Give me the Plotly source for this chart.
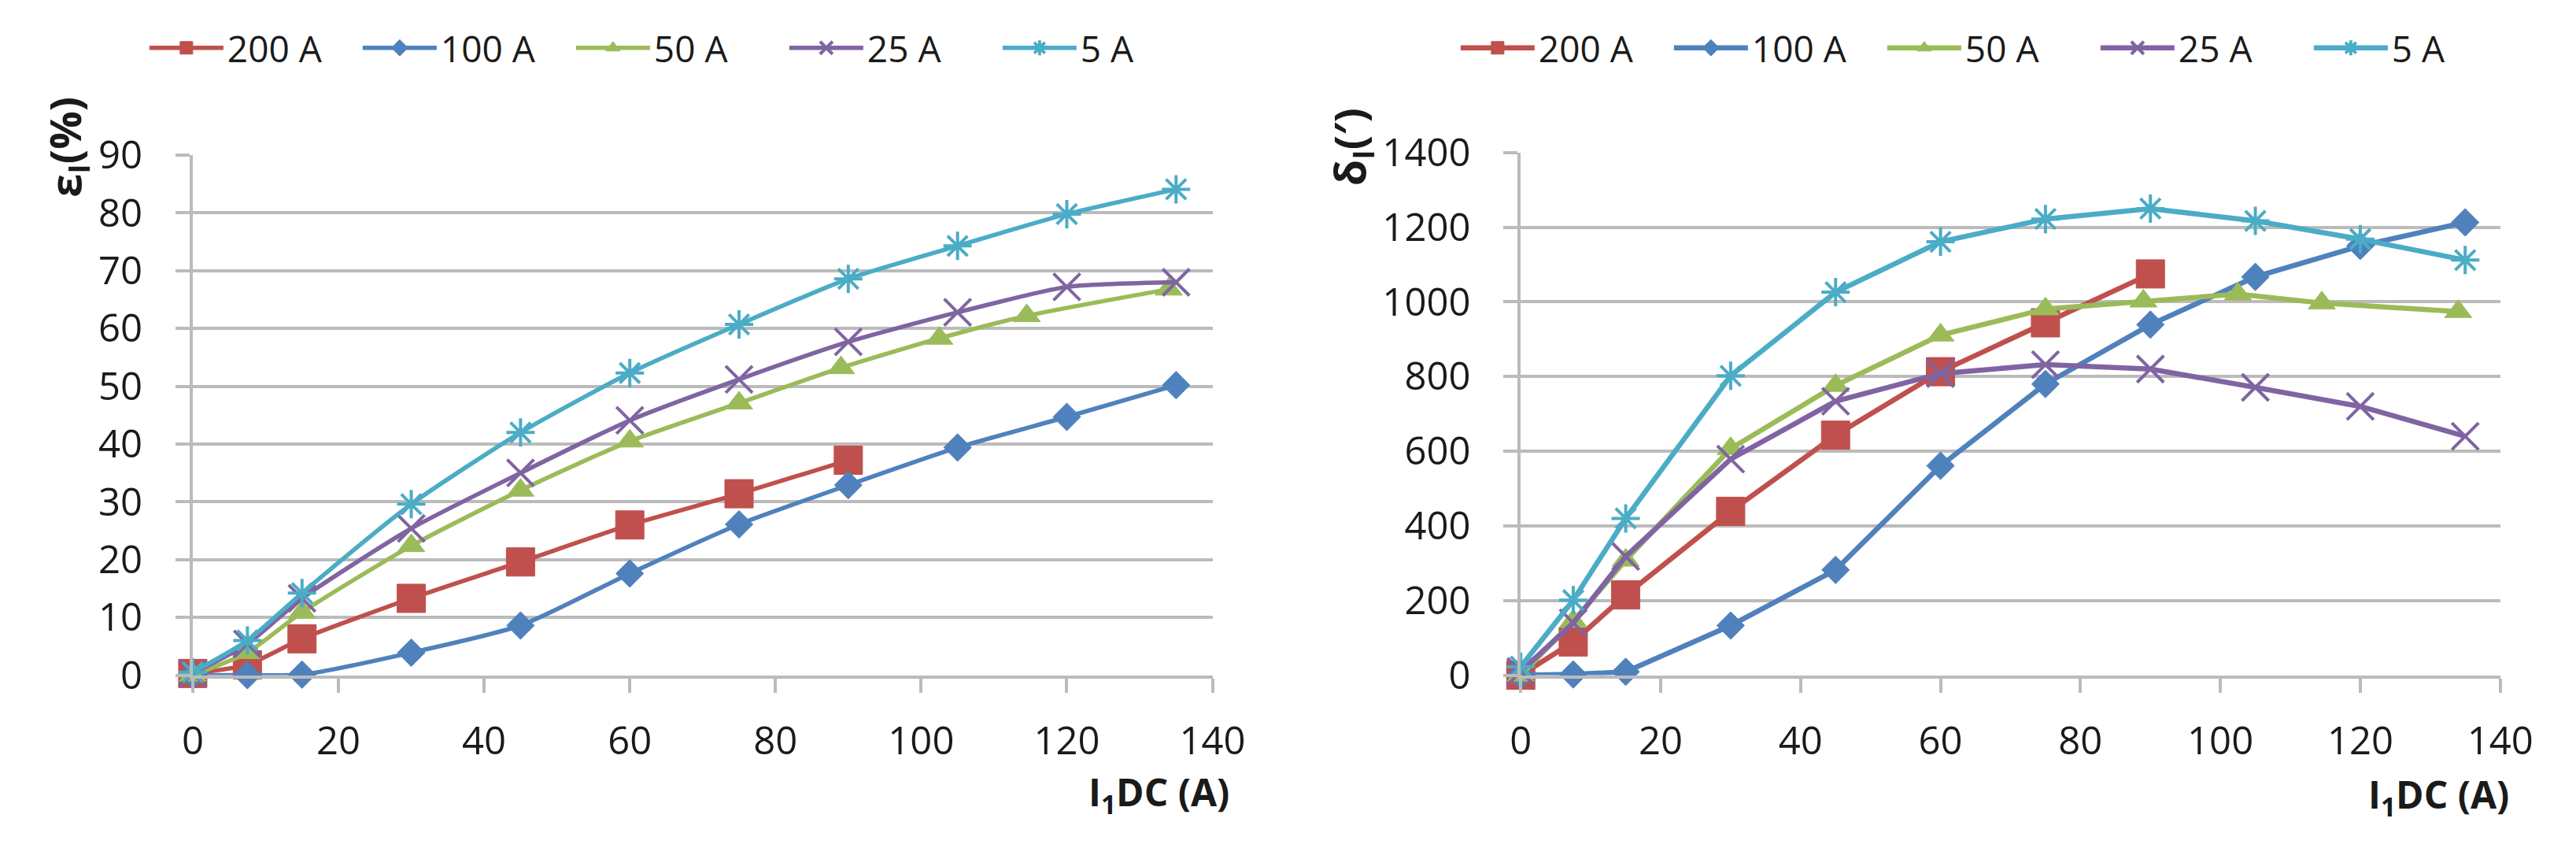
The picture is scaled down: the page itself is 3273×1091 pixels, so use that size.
import plotly.graph_objects as go

# ---------------- data ----------------
series_names = ["200 A", "100 A", "50 A", "25 A", "5 A"]
x_200 = [0, 7.5, 15, 30, 45, 60, 75, 90]
x_100 = [0, 7.5, 15, 30, 45, 60, 75, 90, 105, 120, 135]
x_50 = [0, 7.5, 15, 30, 45, 60, 75, 89, 102.5, 114.5, 134]
x_25 = [0, 7.5, 15, 30, 45, 60, 75, 90, 105, 120, 135]
x_5 = [0, 7.5, 15, 30, 45, 60, 75, 90, 105, 120, 135]

eps_200 = [0.3, 1.8, 6.3, 13.3, 19.6, 26.0, 31.4, 37.2]
eps_100 = [0, 0, 0.1, 3.9, 8.6, 17.6, 26.1, 32.9, 39.4, 44.7, 50.2]
eps_50 = [0, 3.9, 10.9, 22.4, 32.0, 40.5, 47.1, 53.2, 58.3, 62.2, 66.8]
eps_25 = [0.3, 5.4, 13.3, 25.4, 35.0, 44.1, 51.2, 57.7, 62.8, 67.2, 68.0]
eps_5 = [0.5, 6.0, 14.2, 29.6, 42.0, 52.3, 60.7, 68.6, 74.3, 79.8, 84.1]

del_200 = [0, 89, 215, 439, 643, 813, 944, 1075]
del_100 = [0, 2, 9, 133, 282, 561, 780, 939, 1067, 1150, 1213]
del_50 = [0, 145, 308, 607, 776, 911, 981, 1002, 1021, 997, 974]
del_25 = [10, 140, 318, 579, 734, 808, 832, 820, 771, 720, 640]
del_5 = [23, 201, 420, 802, 1026, 1161, 1222, 1250, 1217, 1168, 1112]

x_ticks = [0, 20, 40, 60, 80, 100, 120, 140]
eps_ticks = [0, 10, 20, 30, 40, 50, 60, 70, 80, 90]
del_ticks = [0, 200, 400, 600, 800, 1000, 1200, 1400]

# ---------------- styles ----------------
colors = ["#C0504D", "#4F81BD", "#9BBB59", "#8064A2", "#4BACC6"]
symbols = ["square", "diamond", "triangle-up", "x-thin-open", "asterisk-open"]
msizes = [36, 27, 30, 34, 30]
FONT = "Open Sans"
W, H = 3273, 1091
GRID = "#BBBBBB"
TXT = "#1a1a1a"

xs = [x_200, x_100, x_50, x_25, x_5]
eps = [eps_200, eps_100, eps_50, eps_25, eps_5]
dels = [del_200, del_100, del_50, del_25, del_5]

fig = go.Figure()


def marker(i):
    if symbols[i] in ("x-thin-open", "asterisk-open"):
        return dict(symbol=symbols[i], size=msizes[i], color=colors[i],
                    line=dict(color=colors[i], width=4))
    return dict(symbol=symbols[i], size=msizes[i], color=colors[i],
                line=dict(color=colors[i], width=1))


for i, name in enumerate(series_names):
    fig.add_trace(go.Scatter(
        x=xs[i], y=eps[i], name=name, mode="lines+markers",
        line=dict(color=colors[i], width=5.5, shape="spline", smoothing=0.6),
        marker=marker(i), cliponaxis=False,
        xaxis="x", yaxis="y", legend="legend"))
for i, name in enumerate(series_names):
    fig.add_trace(go.Scatter(
        x=xs[i], y=dels[i], name=name, mode="lines+markers",
        line=dict(color=colors[i], width=6.5),
        marker=marker(i), cliponaxis=False,
        xaxis="x2", yaxis="y2", legend="legend2"))

ax_common = dict(
    showline=True, linecolor=GRID, linewidth=4,
    ticks="outside", ticklen=18, tickwidth=4, tickcolor=GRID,
    tickfont=dict(family=FONT, size=49, color=TXT),
    zeroline=False, fixedrange=True,
)

left_x = [226.8 / W, 1545 / W]
right_x = [1943.5 / W, 3209.6 / W]
ydom_l = [1 - 867 / H, 1 - 164 / H]
ydom_r = [1 - 867 / H, 1 - 160.5 / H]

legend_common = dict(orientation="h", xanchor="center", y=1 - 19 / H,
                     yanchor="middle", font=dict(family=FONT, size=46, color=TXT),
                     entrywidth=162, entrywidthmode="pixels", itemsizing="trace",
                     itemwidth=94, bgcolor="rgba(0,0,0,0)")

fig.update_layout(
    width=W, height=H,
    margin=dict(l=0, r=0, t=0, b=0),
    paper_bgcolor="white", plot_bgcolor="white",
    font=dict(family=FONT, color=TXT),
    xaxis=dict(domain=left_x, range=[0, 140], tickvals=x_ticks, showgrid=False,
               anchor="y", ticklabelstandoff=20, **ax_common),
    yaxis=dict(domain=ydom_l, range=[0, 90], tickvals=eps_ticks, showgrid=True,
               gridcolor=GRID, gridwidth=4, anchor="x", ticklabelstandoff=32,
               **ax_common),
    xaxis2=dict(domain=right_x, range=[0, 140], tickvals=x_ticks, showgrid=False,
                anchor="y2", ticklabelstandoff=20, **ax_common),
    yaxis2=dict(domain=ydom_r, range=[0, 1400], tickvals=del_ticks, showgrid=True,
                gridcolor=GRID, gridwidth=4, anchor="x2", ticklabelstandoff=32,
                **ax_common),
    legend=dict(x=855 / W, **legend_common),
    legend2=dict(x=2550 / W, **legend_common),
    showlegend=True,
)

ann_font = dict(family=FONT, size=54, color=TXT)
fig.add_annotation(text="<b>ε<sub>I</sub>(%)</b>", textangle=-90, xref="paper", yref="paper",
                   x=64 / W, y=1 - 153 / H, xanchor="center", yanchor="middle",
                   showarrow=False, font=ann_font)
fig.add_annotation(text="<b>δ<sub>I</sub>(′)</b>", textangle=-90, xref="paper", yref="paper",
                   x=1724 / W, y=1 - 153 / H, xanchor="center", yanchor="middle",
                   showarrow=False, font=ann_font)
fig.add_annotation(text="<b>I<sub>1</sub>DC (A)</b>", xref="paper", yref="paper",
                   x=1569 / W, y=1 - 1028 / H, xanchor="right", yanchor="middle",
                   showarrow=False, font=dict(family=FONT, size=48, color=TXT))
fig.add_annotation(text="<b>I<sub>1</sub>DC (A)</b>", xref="paper", yref="paper",
                   x=3223 / W, y=1 - 1031 / H, xanchor="right", yanchor="middle",
                   showarrow=False, font=dict(family=FONT, size=48, color=TXT))

fig.write_html("out.html")
